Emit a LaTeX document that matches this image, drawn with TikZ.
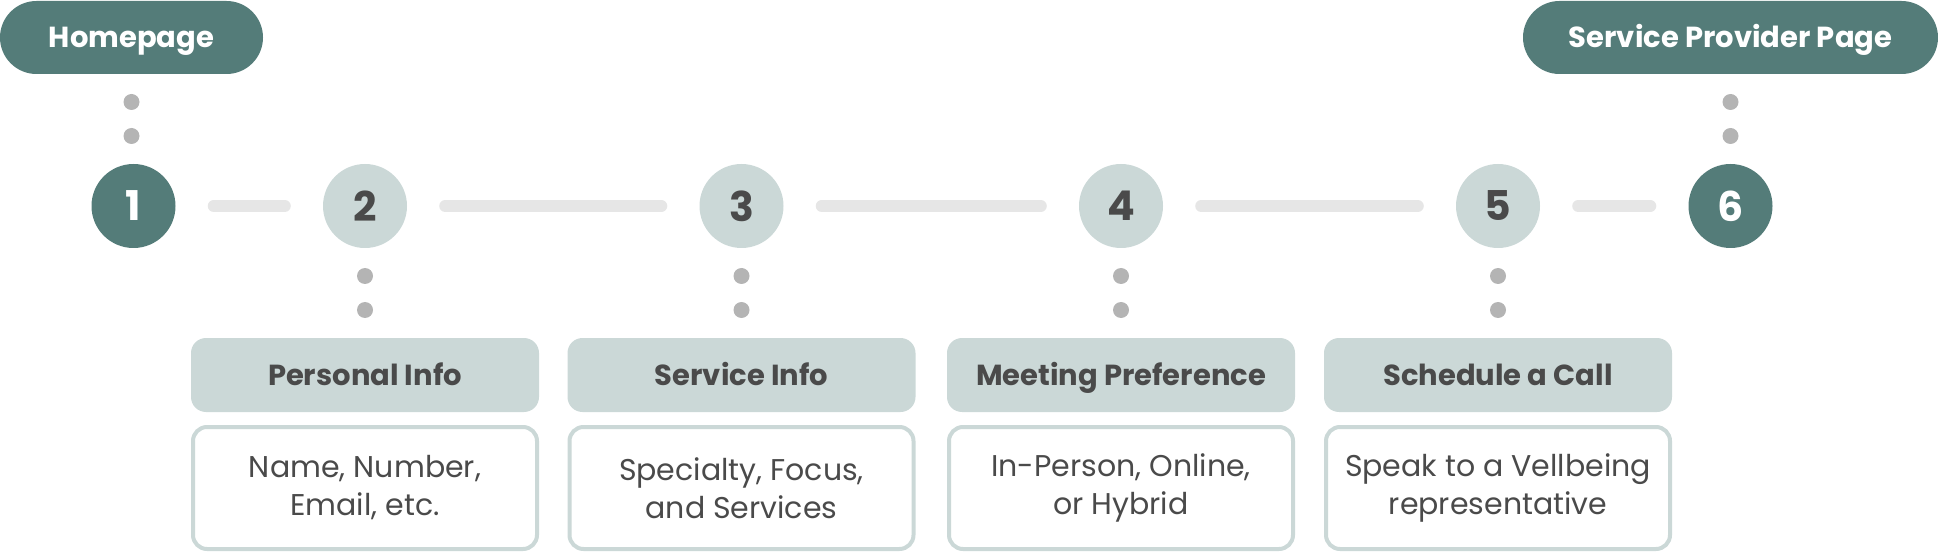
\documentclass[tikz,border=0pt]{standalone}
\usepackage{fontspec}
\setmainfont{Poppins}
\definecolor{teal}{RGB}{84,124,121}
\definecolor{pale}{RGB}{203,216,215}
\definecolor{dotc}{RGB}{180,180,180}
\definecolor{linec}{RGB}{230,230,230}
\definecolor{txt}{RGB}{74,74,74}
\tikzset{
  pill/.style={rectangle, rounded corners=36.5pt, fill=teal, text=white, minimum height=73pt, inner sep=0pt, text height=20.5pt, text depth=0pt, font=\fontsize{29}{34}\selectfont\bfseries},
  darkstep/.style={circle, fill=teal, text=white, minimum size=84pt, inner sep=0pt, font=\fontsize{41}{46}\selectfont\bfseries},
  lightstep/.style={circle, fill=pale, text=txt, minimum size=84pt, inner sep=0pt, font=\fontsize{41}{46}\selectfont\bfseries},
  dotn/.style={circle, fill=dotc, minimum size=16pt, inner sep=0pt},
  conn/.style={draw=linec, line width=12pt, line cap=round},
  headbox/.style={rectangle, rounded corners=15pt, fill=pale, text=txt, minimum width=348pt, minimum height=74pt, inner sep=0pt, text height=20.5pt, text depth=0pt, font=\fontsize{29}{34}\selectfont\bfseries},
  bodybox/.style={rectangle, rounded corners=14pt, draw=pale, line width=4pt, fill=white, text=txt, minimum width=344pt, minimum height=122pt, inner sep=0pt, align=center, font=\fontsize{30}{38}\selectfont},
}
\begin{document}
\begin{tikzpicture}[x=1pt,y=-1pt]
\useasboundingbox (0,0) rectangle (1938,553);
% top pills
\node[pill, minimum width=263pt] (home) at (131.5,37.5) {Homepage};
\node[pill, minimum width=415pt] (spp) at (1730.5,37.5) {Service Provider Page};
% steps
\node[darkstep] (c1) at (133.5,206) {1};
\node[lightstep] (c2) at (365,206) {2};
\node[lightstep] (c3) at (741.5,206) {3};
\node[lightstep] (c4) at (1121,206) {4};
\node[lightstep] (c5) at (1498,206) {5};
\node[darkstep] (c6) at (1730.5,206) {6};
% connectors
\foreach \a/\b in {c1/c2,c2/c3,c3/c4,c4/c5,c5/c6}
  \draw[conn] ([xshift=38pt]\a.east) -- ([xshift=-38pt]\b.west);
% dots top
\node[dotn] (ht1) at (131.5,102) {};
\node[dotn] (ht2) at (131.5,136) {};
\node[dotn] (st1) at (1730.5,102) {};
\node[dotn] (st2) at (1730.5,136) {};
% boxes
\foreach \i/\x/\h/\b in {2/365/{Personal Info}/{Name, Number,\\Email, etc.},
                         3/741.5/{Service Info}/{Specialty, Focus,\\and Services},
                         4/1121/{Meeting Preference}/{In-Person, Online,\\or Hybrid},
                         5/1498/{Schedule a Call}/{Speak to a Vellbeing\\representative}}{
  \node[dotn] (d\i a) at (\x,276) {};
  \node[dotn] (d\i b) at (\x,310) {};
  \node[headbox] (h\i) at (\x,375) {\h};
  \node[bodybox] (b\i) at (\x,488) {\b};
}
\end{tikzpicture}
\end{document}
